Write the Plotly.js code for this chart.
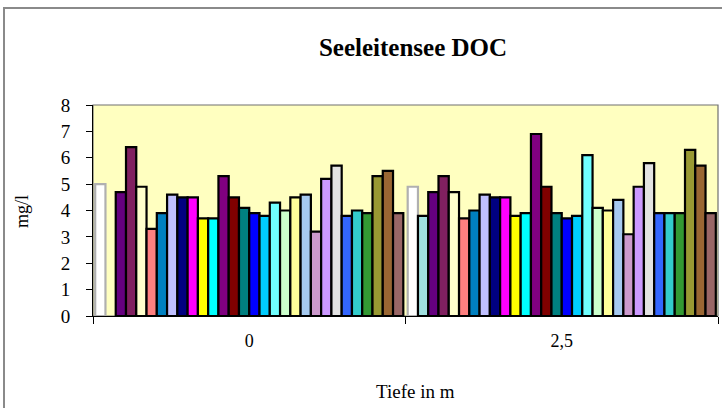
<!DOCTYPE html>
<html>
<head>
<meta charset="utf-8">
<script src="https://cdn.plot.ly/plotly-3.0.1.min.js"></script>
<style>
  html, body { margin: 0; padding: 0; background: #fff; }
  #wrap { position: relative; width: 722px; height: 408px; overflow: hidden; }
  #chart { position: absolute; left: 0; top: 0; width: 722px; height: 408px; }
  #frame { position: absolute; left: 3px; top: 7px; width: 760px; height: 440px;
           border-left: 2px solid #8a8a8a; border-top: 2px solid #8a8a8a; pointer-events: none; }
</style>
</head>
<body>
<div id="wrap">
  <div id="chart"></div>
  <div id="frame"></div>
</div>
<script>
// Categories (Tiefe in m)
var categories = ['0', '2,5'];

// DOC values (mg/l) per series, depth 0 m
var depth0 = [5.0, null, 4.7, 6.4, 4.9, 3.3, 3.9, 4.6, 4.5, 4.5, 3.7, 3.7, 5.3, 4.5, 4.1,
              3.9, 3.8, 4.3, 4.0, 4.5, 4.6, 3.2, 5.2, 5.7, 3.8, 4.0, 3.9, 5.3, 5.5, 3.9];

// DOC values (mg/l) per series, depth 2.5 m
var depth25 = [4.9, 3.8, 4.7, 5.3, 4.7, 3.7, 4.0, 4.6, 4.5, 4.5, 3.8, 3.9, 6.9, 4.9, 3.9,
               3.7, 3.8, 6.1, 4.1, 4.0, 4.4, 3.1, 4.9, 5.8, 3.9, 3.9, 3.9, 6.3, 5.7, 3.9];

// Series names
var seriesNames = [];
for (var k = 1; k <= depth0.length; k++) seriesNames.push('Serie ' + k);

// Series fill colours
var seriesColors = ['#FFFFFF', '#A0E0E0', '#660080', '#802060', '#FFFFCC', '#FF8080',
                    '#0080C0', '#C0C0FF', '#000080', '#FF00FF', '#FFFF00', '#00FFFF',
                    '#800080', '#800000', '#008080', '#0000FF', '#00CCFF', '#70FFFF',
                    '#CCFFCC', '#FFFF99', '#A6CAF0', '#CC99CC', '#CC99FF', '#E3E3E3',
                    '#3366FF', '#33CCCC', '#339933', '#999933', '#996633', '#996666'];

var traces = [];
for (var i = 0; i < seriesNames.length; i++) {
  traces.push({
    type: 'bar',
    name: seriesNames[i],
    x: categories,
    y: [depth0[i], depth25[i]],
    marker: {
      color: seriesColors[i],
      line: { color: i === 0 ? '#B0B0B0' : '#000000', width: 2.2 }
    },
    hoverinfo: 'x+y+name'
  });
}

var serif = '"Liberation Serif", "Times New Roman", serif';

var layout = {
  width: 722,
  height: 408,
  margin: { l: 93, r: 4, t: 105, b: 92, pad: 0 },
  paper_bgcolor: '#FFFFFF',
  plot_bgcolor: '#FFFFC0',
  showlegend: false,
  barmode: 'group',
  bargap: 0.014,
  bargroupgap: 0,
  font: { family: serif, size: 16, color: '#000' },
  title: {
    text: '<b>Seeleitensee DOC</b>',
    font: { family: serif, size: 25, color: '#000' },
    x: 0.572, xanchor: 'center',
    y: 0.883, yanchor: 'middle'
  },
  xaxis: {
    type: 'category',
    tickson: 'boundaries',
    ticks: 'outside',
    ticklen: 7,
    tickcolor: '#000',
    tickwidth: 1,
    showline: true,
    linecolor: '#000',
    linewidth: 1,
    showgrid: false,
    zeroline: false,
    ticklabelstandoff: 8,
    tickfont: { family: serif, size: 18, color: '#000' }
  },
  yaxis: {
    range: [0, 8],
    dtick: 1,
    ticks: 'outside',
    ticklen: 6,
    tickcolor: '#000',
    showline: true,
    linecolor: '#000',
    linewidth: 1,
    showgrid: false,
    zeroline: false,
    ticklabelstandoff: 12,
    tickfont: { family: serif, size: 19, color: '#000' }
  },
  annotations: [
    {
      text: 'Tiefe in m', xref: 'paper', yref: 'paper',
      x: (415.5 - 93) / 625, y: -(391 - 316) / 211,
      xanchor: 'center', yanchor: 'middle', showarrow: false,
      font: { family: serif, size: 19, color: '#000' }
    },
    {
      text: 'mg/l', xref: 'paper', yref: 'paper',
      x: (22 - 93) / 625, y: (316 - 212) / 211,
      xanchor: 'center', yanchor: 'middle', showarrow: false, textangle: -90,
      font: { family: serif, size: 18, color: '#000' }
    }
  ],
  shapes: [{
    type: 'rect', xref: 'paper', yref: 'paper', x0: 0, x1: 1, y0: 0, y1: 1,
    line: { color: '#707070', width: 1.2 }, layer: 'below'
  }]
};

Plotly.newPlot('chart', traces, layout, { staticPlot: true, displayModeBar: false });
</script>
</body>
</html>
